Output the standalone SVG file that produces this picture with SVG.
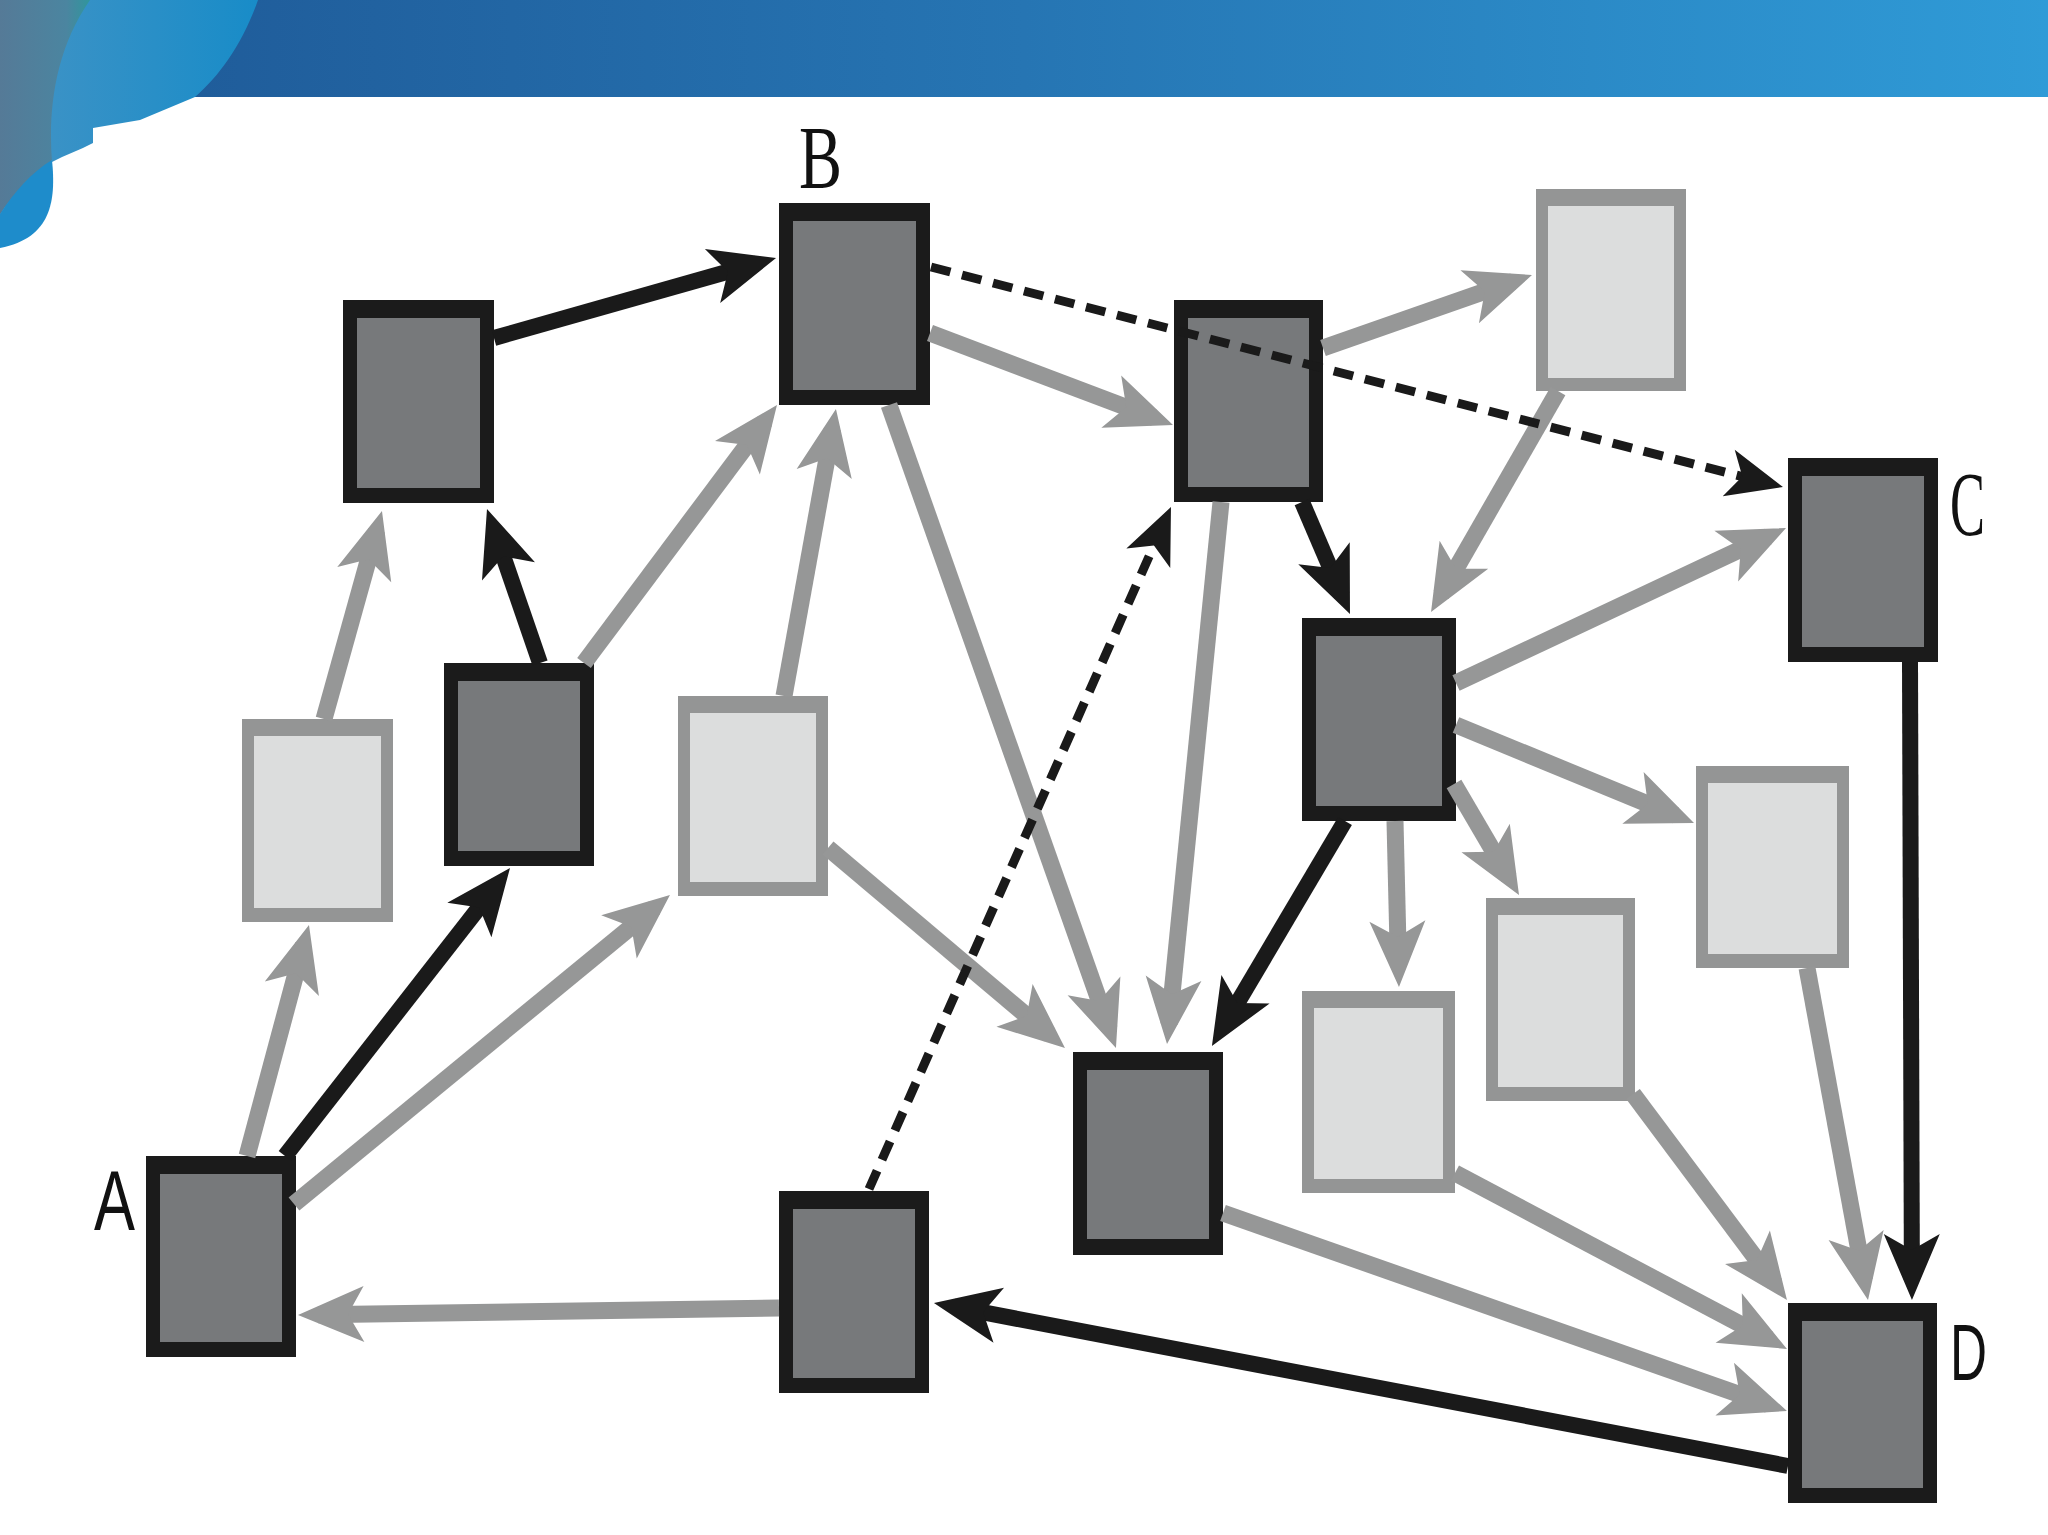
<svg xmlns="http://www.w3.org/2000/svg" width="2048" height="1535" viewBox="0 0 2048 1535">
<style>
.dk-o{fill:#1b1b1b}
.dk-i{fill:#77797b}
.lt-o{fill:#949595}
.lt-i{fill:#dcdddd}
.g{stroke:#969797;stroke-width:17;fill:none;marker-end:url(#ag)}
.k{stroke:#1a1a1a;stroke-width:16;fill:none;marker-end:url(#ak)}
.kd{stroke:#1a1a1a;stroke-width:9;fill:none;stroke-dasharray:20 12;marker-end:url(#akd)}
.lbl{fill:#111;}
</style>
<defs>
<linearGradient id="band" x1="0" y1="0" x2="1" y2="0">
<stop offset="0" stop-color="#1e5795"/>
<stop offset="0.5" stop-color="#2675b3"/>
<stop offset="1" stop-color="#2f9bd7"/>
</linearGradient>
<linearGradient id="grayblue" x1="0" y1="0" x2="1" y2="0">
<stop offset="0" stop-color="#557a97"/>
<stop offset="0.7" stop-color="#4b85a0"/>
<stop offset="1" stop-color="#2a9a9c"/>
</linearGradient>
<linearGradient id="leaf" x1="0" y1="0" x2="1" y2="0">
<stop offset="0" stop-color="#3a92c6"/>
<stop offset="1" stop-color="#188cc8"/>
</linearGradient>
<marker id="ag" markerUnits="userSpaceOnUse" viewBox="-68 -30 70 60" markerWidth="70" markerHeight="60" refX="-20" refY="0" orient="auto">
<path d="M0,0 L-66,-28 L-50,0 L-66,28 Z" fill="#969797"/>
</marker>
<marker id="ak" markerUnits="userSpaceOnUse" viewBox="-68 -30 70 60" markerWidth="70" markerHeight="60" refX="-20" refY="0" orient="auto">
<path d="M0,0 L-66,-28 L-50,0 L-66,28 Z" fill="#1a1a1a"/>
</marker>
<marker id="akd" markerUnits="userSpaceOnUse" viewBox="-60 -26 62 52" markerWidth="62" markerHeight="52" refX="-14" refY="0" orient="auto">
<path d="M0,0 L-56,-24 L-42,0 L-56,24 Z" fill="#1a1a1a"/>
</marker>
</defs>
<rect x="0" y="0" width="2048" height="1535" fill="#ffffff"/>
<g id="header">
<rect x="0" y="0" width="2048" height="97" fill="url(#band)"/>
<path d="M0,0 L95,0 C70,40 55,90 52,160 L50,165 C30,180 12,195 0,215 Z" fill="url(#grayblue)"/>
<path d="M90,0 L258,0 C242,45 220,75 195,97 L140,120 L93,128 L93,143 C80,150 65,155 52,162 C48,110 55,50 90,0 Z" fill="url(#leaf)"/>
<path d="M52,160 C56,200 52,238 0,248 L0,214 C14,192 32,172 52,160 Z" fill="#1e8ccb"/>
</g>
<g id="labels">
<text class="lbl" x="799" y="187" font-family="Liberation Serif, serif" font-size="88" textLength="43" lengthAdjust="spacingAndGlyphs">B</text>
<text class="lbl" x="1950" y="535" font-family="Liberation Serif, serif" font-size="90" textLength="35" lengthAdjust="spacingAndGlyphs">C</text>
<text class="lbl" x="94" y="1230" font-family="Liberation Sans, sans-serif" font-size="85" textLength="41" lengthAdjust="spacingAndGlyphs">A</text>
<text class="lbl" x="1950" y="1380" font-family="Liberation Sans, sans-serif" font-size="80" textLength="37" lengthAdjust="spacingAndGlyphs">D</text>
</g>
<g id="n1"><rect class="dk-o" x="343" y="300" width="151" height="203"/><rect class="dk-i" x="357" y="318" width="123" height="170"/></g>
<g id="nB"><rect class="dk-o" x="779" y="203" width="151" height="202"/><rect class="dk-i" x="793" y="221" width="123" height="169"/></g>
<g id="n3"><rect class="dk-o" x="1174" y="300" width="149" height="202"/><rect class="dk-i" x="1188" y="318" width="121" height="169"/></g>
<g id="n4"><rect class="lt-o" x="1536" y="189" width="150" height="202"/><rect class="lt-i" x="1548" y="206" width="126" height="172"/></g>
<g id="nC"><rect class="dk-o" x="1788" y="458" width="150" height="204"/><rect class="dk-i" x="1802" y="476" width="122" height="171"/></g>
<g id="n6"><rect class="dk-o" x="1302" y="618" width="154" height="203"/><rect class="dk-i" x="1316" y="636" width="126" height="170"/></g>
<g id="l1"><rect class="lt-o" x="242" y="719" width="151" height="203"/><rect class="lt-i" x="254" y="736" width="127" height="172"/></g>
<g id="n8"><rect class="dk-o" x="444" y="663" width="150" height="203"/><rect class="dk-i" x="458" y="681" width="122" height="170"/></g>
<g id="l2"><rect class="lt-o" x="678" y="696" width="150" height="200"/><rect class="lt-i" x="690" y="713" width="126" height="169"/></g>
<g id="l3"><rect class="lt-o" x="1696" y="766" width="153" height="202"/><rect class="lt-i" x="1708" y="783" width="129" height="171"/></g>
<g id="l4"><rect class="lt-o" x="1486" y="898" width="149" height="203"/><rect class="lt-i" x="1498" y="915" width="125" height="172"/></g>
<g id="l5"><rect class="lt-o" x="1302" y="991" width="153" height="202"/><rect class="lt-i" x="1314" y="1008" width="129" height="171"/></g>
<g id="n13"><rect class="dk-o" x="1073" y="1052" width="150" height="203"/><rect class="dk-i" x="1087" y="1070" width="122" height="169"/></g>
<g id="nA"><rect class="dk-o" x="146" y="1156" width="150" height="201"/><rect class="dk-i" x="160" y="1174" width="122" height="168"/></g>
<g id="n15"><rect class="dk-o" x="779" y="1191" width="150" height="202"/><rect class="dk-i" x="793" y="1209" width="122" height="169"/></g>
<g id="nD"><rect class="dk-o" x="1788" y="1303" width="149" height="200"/><rect class="dk-i" x="1802" y="1321" width="121" height="167"/></g>
<g id="connectors">
<line class="g" x1="247" y1="1156" x2="303.8" y2="944.3"/>
<line class="g" x1="324" y1="719" x2="376.6" y2="530.3"/>
<line class="g" x1="584" y1="663" x2="765" y2="421"/>
<line class="g" x1="784" y1="696" x2="832.4" y2="428.7"/>
<line class="g" x1="294" y1="1204" x2="654.5" y2="907.7"/>
<line class="g" x1="889" y1="405" x2="1109.3" y2="1029.2"/>
<line class="g" x1="828" y1="848" x2="1049.7" y2="1035.1"/>
<line class="g" x1="930" y1="333" x2="1154.3" y2="417.9"/>
<line class="g" x1="1323" y1="348" x2="1513.1" y2="281.6"/>
<line class="g" x1="1558" y1="391" x2="1441" y2="594.7"/>
<line class="g" x1="1221" y1="502" x2="1169" y2="1024.1"/>
<line class="g" x1="1456" y1="683" x2="1767.9" y2="536.5"/>
<line class="g" x1="1456" y1="725" x2="1675.5" y2="815.4"/>
<line class="g" x1="1454" y1="784" x2="1508.9" y2="877.7"/>
<line class="g" x1="1395" y1="821" x2="1398.5" y2="967"/>
<line class="g" x1="1807" y1="968" x2="1864.4" y2="1280.3"/>
<line class="g" x1="1633" y1="1094" x2="1775" y2="1284"/>
<line class="g" x1="1455" y1="1173" x2="1769.3" y2="1339.6"/>
<line class="g" x1="1223" y1="1213" x2="1768.1" y2="1404.4"/>
<line class="g" x1="779" y1="1308" x2="318" y2="1314.7"/>
<line class="k" x1="494" y1="338" x2="756.8" y2="263.5"/>
<line class="k" x1="540" y1="663" x2="493.5" y2="527.9"/>
<line class="k" x1="285" y1="1156" x2="497.7" y2="883.8"/>
<line class="k" x1="1302" y1="502" x2="1342.1" y2="595.6"/>
<line class="k" x1="1345" y1="821" x2="1222.1" y2="1028.8"/>
<line class="k" x1="1910" y1="662" x2="1911.9" y2="1280"/>
<line class="k" x1="1788" y1="1466" x2="953.6" y2="1306.7"/>
<line class="kd" x1="931" y1="267" x2="1769.4" y2="483.5"/>
<line class="kd" x1="869" y1="1189" x2="1165.3" y2="519.8"/>
</g>
</svg>
